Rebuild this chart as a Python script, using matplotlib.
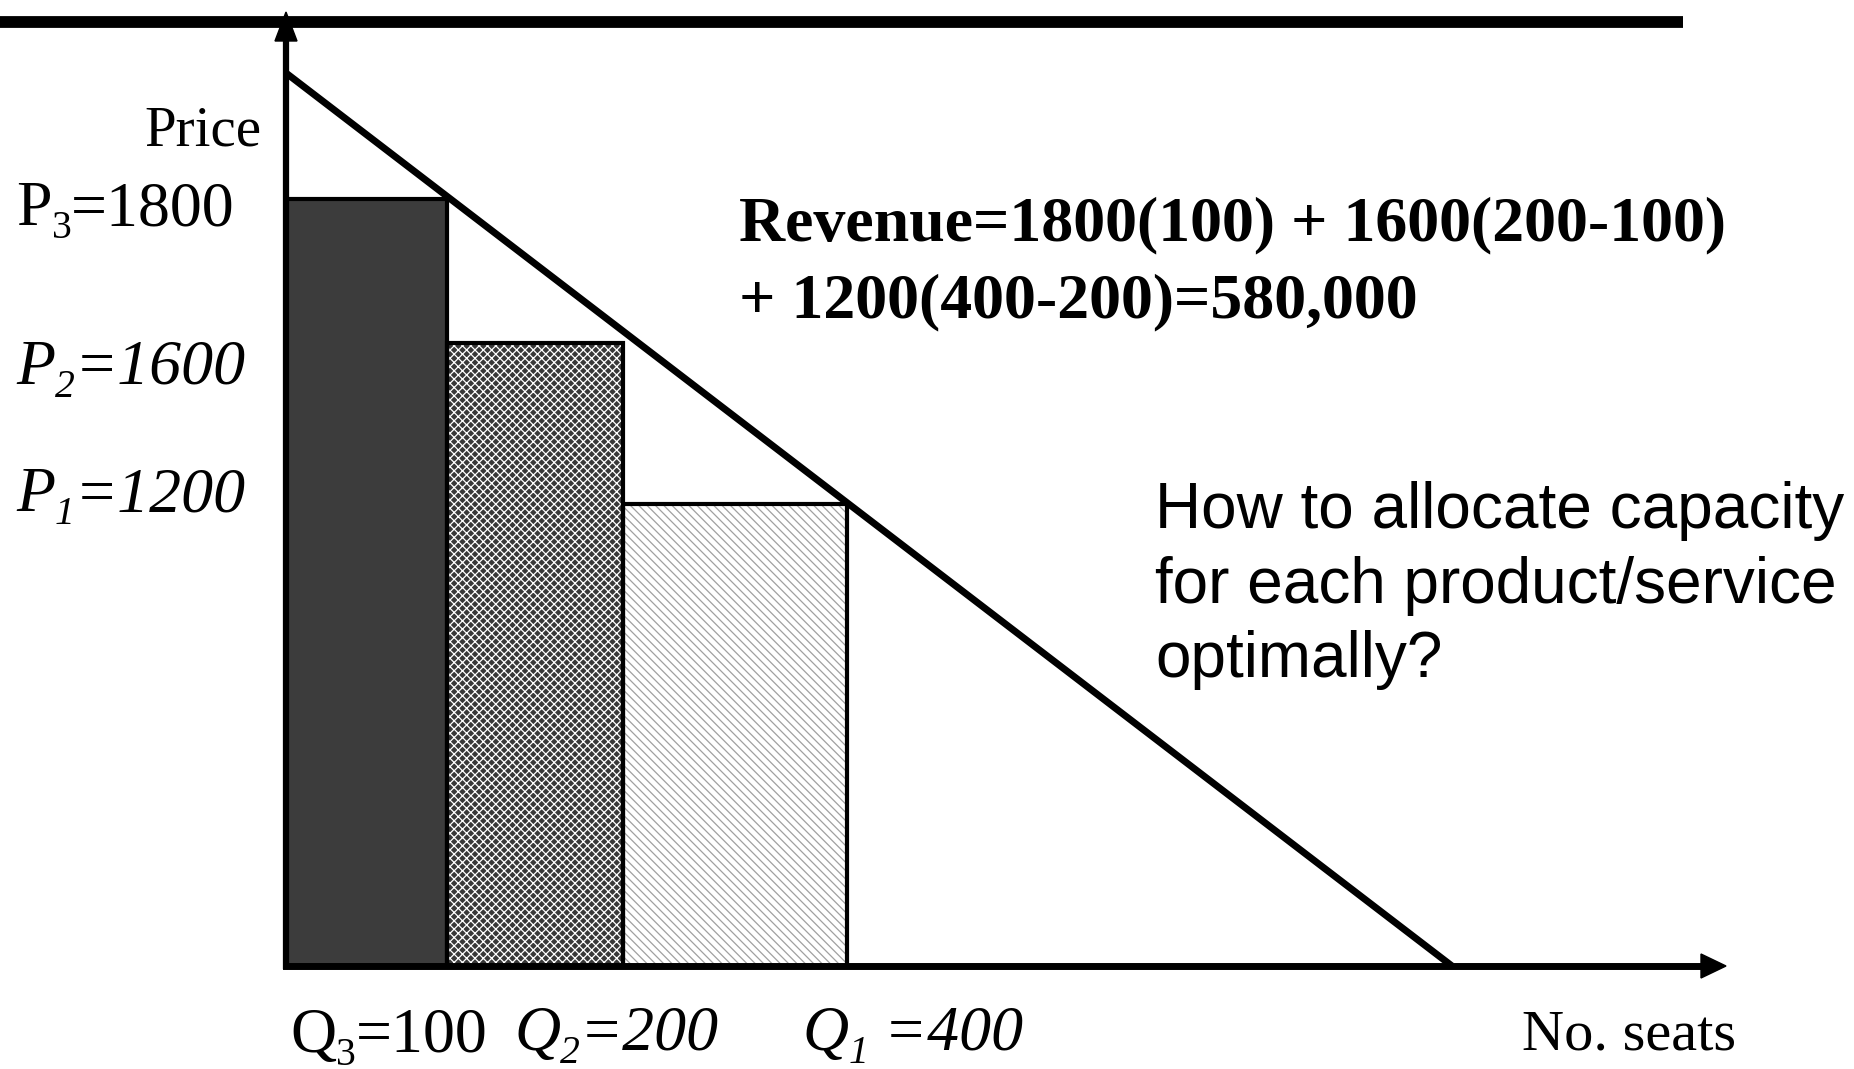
import matplotlib
matplotlib.use("Agg")
import matplotlib.pyplot as plt
from matplotlib.patches import Rectangle, Polygon

plt.rcParams['hatch.linewidth'] = 0.9

# ---- data (schematic chart units, origin at axes corner) ----
prices = [1800, 1600, 1200]          # P3, P2, P1
quantities = [100, 200, 400]         # Q3, Q2, Q1
bar_edges = [0, 161, 337, 561]       # schematic x positions of Q boundaries
bar_heights = [767, 623, 462]        # schematic heights of price levels
demand_x = [0, 1166]
demand_y = [893, 0]
revenue = sum(p * (q - q0) for p, q, q0 in zip(prices, quantities, [0] + quantities[:-1]))

fig = plt.figure(figsize=(18.54, 10.69), dpi=100)
ax = fig.add_axes([0, 0, 1, 1])
ax.set_xlim(-286, 1568)
ax.set_ylim(-103, 966)
ax.axis('off')

# bars
faces = ['#3c3c3c', '#383838', 'white']
hatches = [None, 'xxxx', '\\\\\\\\']
hcolors = ['#3c3c3c', 'white', '#a0a0a0']
for i in range(3):
    x0, x1 = bar_edges[i], bar_edges[i + 1]
    ax.add_patch(Rectangle((x0, 0), x1 - x0, bar_heights[i], facecolor=faces[i],
                           edgecolor=hcolors[i], hatch=hatches[i], lw=0, zorder=1))
    ax.add_patch(Rectangle((x0, 0), x1 - x0, bar_heights[i], facecolor='none',
                           edgecolor='black', lw=3, zorder=2))

# demand line
ax.plot(demand_x, demand_y, color='black', lw=5, solid_capstyle='butt', zorder=3)

# axes lines
ax.plot([0, 0], [0, 930], color='black', lw=4.5, zorder=4)
ax.add_patch(Polygon([[-11, 925], [11, 925], [0, 954]], closed=True, color='black', zorder=4))
ax.plot([0, 1420], [0, 0], color='black', lw=5, zorder=4)
ax.add_patch(Polygon([[1415, -12], [1415, 12], [1440, 0]], closed=True, color='black', zorder=4))

# top rule
ax.plot([-286, 1397], [944, 944], color='black', lw=8.5, solid_capstyle='butt', zorder=5)

serif = 'Liberation Serif'
sans = 'Liberation Sans'

renderer = fig.canvas.get_renderer()


def compose(x, y, parts, size, style='normal'):
    """Write text pieces one after another; sub pieces are smaller and lowered."""
    cx = x
    for txt, sub in parts:
        fs = size * 0.62 if sub else size
        dy = -size * 100 / 72 * 0.2 if sub else 0
        t = ax.text(cx, y + dy, txt, family=serif, style=style, fontsize=fs,
                    ha='left', va='baseline')
        bb = t.get_window_extent(renderer=renderer)
        cx += bb.width  # 1 data unit == 1 pixel


ax.text(-24, 821, 'Price', family=serif, fontsize=41, ha='right', va='baseline')
compose(-270, 741, [('P', False), ('3', True), ('=%d' % prices[0], False)], 46)
compose(-270, 582, [('P', False), ('2', True), ('=%d' % prices[1], False)], 46, 'italic')
compose(-270, 455, [('P', False), ('1', True), ('=%d' % prices[2], False)], 46, 'italic')

ax.text(453, 726, 'Revenue=%d(%d) + %d(%d-%d)' % (prices[0], quantities[0], prices[1], quantities[1], quantities[0]),
        family=serif, fontweight='bold', fontsize=46, ha='left', va='baseline')
ax.text(453, 649, '+ %d(%d-%d)=%s' % (prices[2], quantities[2], quantities[1], format(revenue, ',')),
        family=serif, fontweight='bold', fontsize=46, ha='left', va='baseline')

ax.text(869, 438, 'How to allocate capacity', family=sans, fontsize=46, ha='left', va='baseline')
ax.text(869, 363, 'for each product/service', family=sans, fontsize=46, ha='left', va='baseline')
ax.text(869, 289, 'optimally?', family=sans, fontsize=46, ha='left', va='baseline')

compose(4, -86, [('Q', False), ('3', True), ('=%d' % quantities[0], False)], 46)
compose(228, -84, [('Q', False), ('2', True), ('=%d' % quantities[1], False)], 46, 'italic')
compose(516, -84, [('Q', False), ('1', True), (' =%d' % quantities[2], False)], 46, 'italic')
ax.text(1236, -84, 'No. seats', family=serif, fontsize=42, ha='left', va='baseline')

fig.savefig('out.png', dpi=100)
